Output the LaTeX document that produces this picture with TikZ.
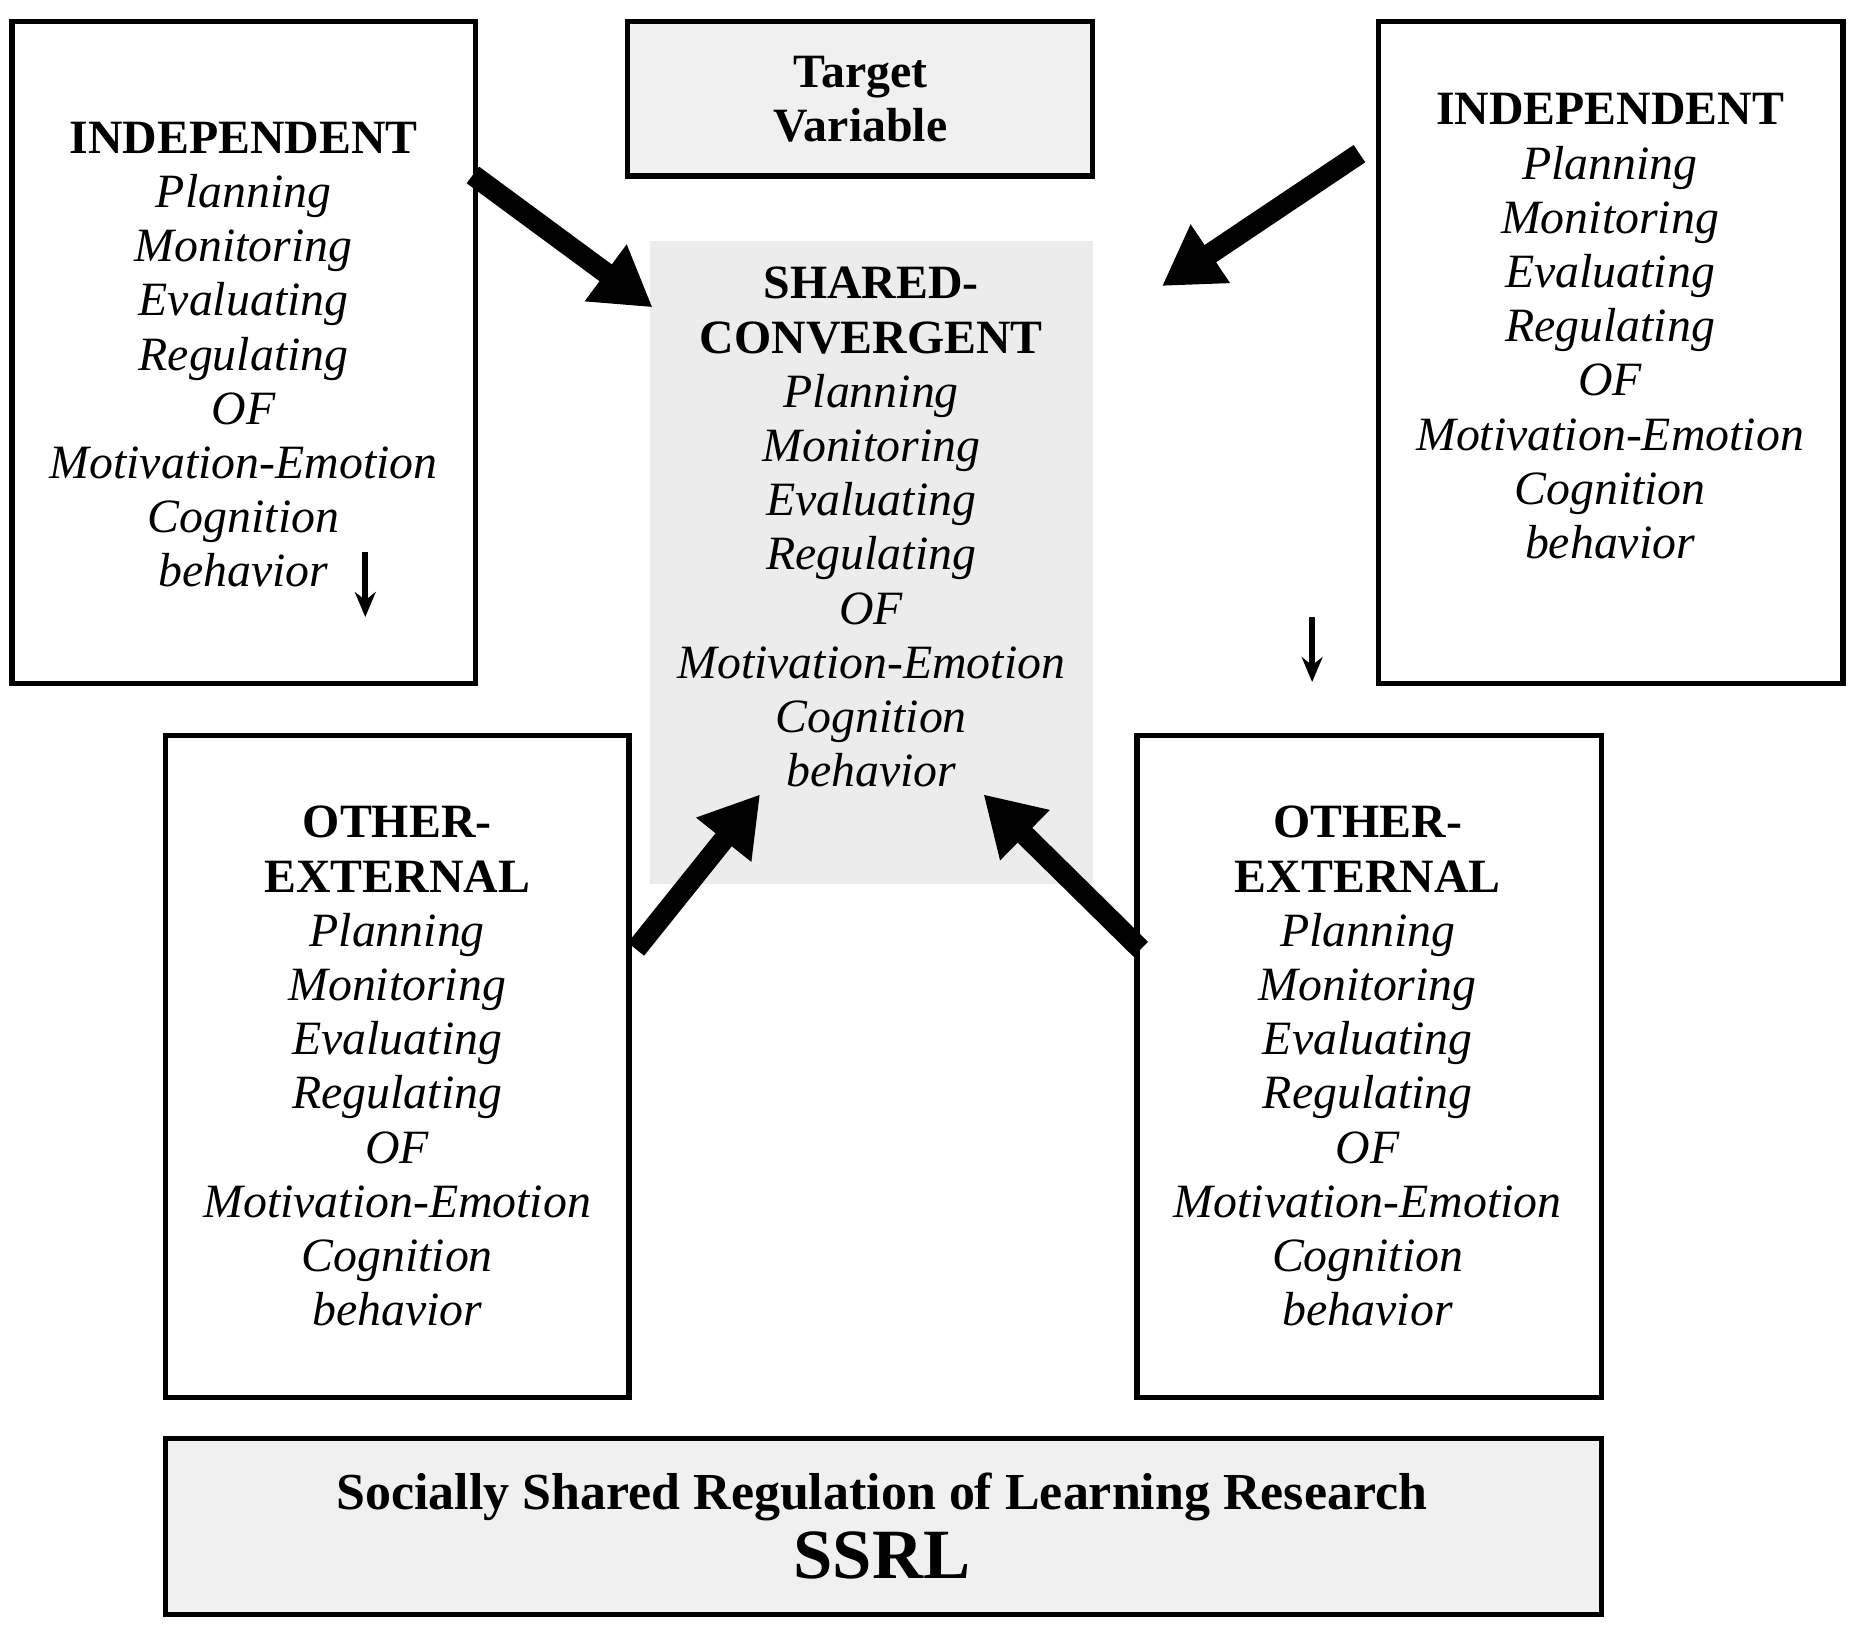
\documentclass[tikz,border=0pt]{standalone}
\usepackage{fontspec}
\setmainfont{Liberation Serif}
\usetikzlibrary{arrows.meta}
\begin{document}
\begin{tikzpicture}[x=0.01cm,y=-0.01cm,
  box/.style={draw=black,line width=1.3pt},
  txt/.style={align=center,font=\fontsize{11.5}{13.04}\selectfont,inner sep=0pt},
  big/.style={line width=5pt,-{Triangle[length=14pt,width=16pt]}},
  small/.style={line width=1.4pt,-{Stealth[length=6pt,width=5pt]}}]
\useasboundingbox (0,0) rectangle (1565,1386);
\fill[gray!15] (550,204) rectangle (925,748);
\draw[box] (10,18) rectangle (402,578);
\draw[box,fill=gray!12] (531,18) rectangle (924,149);
\draw[box] (1166,18) rectangle (1559,578);
\draw[box] (140,622) rectangle (532,1182);
\draw[box] (962,622) rectangle (1355,1182);
\draw[box,fill=gray!12] (140,1217) rectangle (1355,1366);
\newcommand{\blk}[1]{\textbf{#1}\\\itshape Planning\\\itshape Monitoring\\\itshape Evaluating\\\itshape Regulating\\\itshape OF\\\itshape Motivation-Emotion\\\itshape Cognition\\\itshape behavior}
\node[txt] (ind1) at (206,300) {\blk{INDEPENDENT}};
\node[txt] (ind2) at (1362,276) {\blk{INDEPENDENT}};
\node[txt] (tv) at (728,84) {\textbf{Target}\\\textbf{Variable}};
\node[txt] (sh) at (737,446) {\textbf{SHARED-}\\\blk{CONVERGENT}};
\node[txt] (oe1) at (336,902) {\textbf{OTHER-}\\\blk{EXTERNAL}};
\node[txt] (oe2) at (1157,902) {\textbf{OTHER-}\\\blk{EXTERNAL}};
\node[txt,font=\fontsize{12.5}{16}\selectfont] (ss1) at (746,1266) {\textbf{Socially Shared Regulation of Learning Research}};
\node[txt,font=\fontsize{17}{20}\selectfont] (ss2) at (746,1316) {\textbf{SSRL}};
\coordinate (a1) at (400,148); \coordinate (b1) at (552,260);
\coordinate (a2) at (1150,130); \coordinate (b2) at (983,242);
\coordinate (a3) at (538,803); \coordinate (b3) at (643,672);
\coordinate (a4) at (965,803); \coordinate (b4) at (832,672);
\draw[big] (a1) -- (b1);
\draw[big] (a2) -- (b2);
\draw[big] (a3) -- (b3);
\draw[big] (a4) -- (b4);
\coordinate (c1) at (309,467); \coordinate (d1) at (309,522);
\coordinate (c2) at (1110,522); \coordinate (d2) at (1110,577);
\draw[small] (c1) -- (d1);
\draw[small] (c2) -- (d2);
\end{tikzpicture}
\end{document}
